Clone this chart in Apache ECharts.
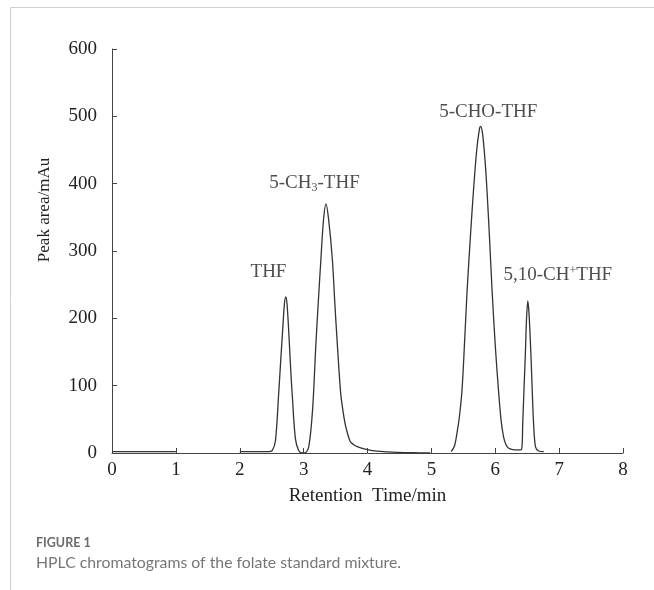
<!DOCTYPE html>
<html>
<head>
<meta charset="utf-8">
<script src="https://cdn.jsdelivr.net/npm/echarts@6/dist/echarts.min.js"></script>
<style>
html,body{margin:0;padding:0;background:#fff;}
#c{width:654px;height:590px;}
</style>
</head>
<body>
<div id="c"></div>
<script>
// Retention time (min) and signal (mAu); null breaks the trace
var times = [0, 1, 1.5,
  2.0, 2.3, 2.45, 2.51, 2.56, 2.61, 2.64, 2.67, 2.70, 2.72, 2.74, 2.77, 2.80, 2.82, 2.87, 2.92, 2.97, 3.02,
  3.08, 3.14, 3.19, 3.23, 3.27, 3.31, 3.35, 3.39, 3.45, 3.49, 3.53, 3.58, 3.62, 3.66, 3.73, 3.79, 3.84, 3.95, 4.05, 4.25, 4.46, 4.7, 4.98,
  5.1,
  5.31, 5.36, 5.40, 5.44, 5.48, 5.52, 5.56, 5.61, 5.66, 5.71, 5.75, 5.77, 5.80, 5.84, 5.87, 5.91, 5.95, 6.00, 6.05, 6.09, 6.13, 6.17, 6.21, 6.28, 6.34,
  6.41, 6.43, 6.45, 6.47, 6.49, 6.51, 6.53, 6.56, 6.58, 6.60, 6.63, 6.68, 6.76];
var signal = [2, 2, null,
  2, 2, 2, 4, 19, 89, 135, 180, 222, 232, 222, 175, 120, 89, 22, 4, 0, 0,
  9, 64, 158, 225, 287, 345, 370, 348, 287, 220, 158, 89, 60, 39, 17, 12, 9.4, 6, 4, 2, 1, 0.5, 0,
  null,
  2, 10, 29, 55, 94, 165, 242, 320, 391, 450, 480, 485, 475, 435, 391, 320, 242, 160, 94, 50, 24, 12, 7, 5, 4.5,
  5, 44, 95, 143, 200, 226, 205, 143, 90, 44, 9, 3, 2];

var peakNames = ['THF', '{n|5-CH}{sub|3}{n|-THF}', '5-CHO-THF', '{n|5,10-CH}{sup|+}{n|THF}'];
var labelTimes = [2.45, 3.17, 5.89, 6.98];
var labelValues = [269, 401, 507, 264];

var xTicks = [0, 1, 2, 3, 4, 5, 6, 7, 8];
var yTicks = [0, 100, 200, 300, 400, 500, 600];

var trace = times.map(function (t, i) { return [t, signal[i]]; });
var labels = labelTimes.map(function (t, i) { return { value: [t, labelValues[i]], name: peakNames[i] }; });

var serif = '"Liberation Serif", "DejaVu Serif", serif';
var axisColor = '#444';

var chart = echarts.init(document.getElementById('c'));
chart.setOption({
  backgroundColor: '#fff',
  animation: false,
  grid: { left: 112, right: 31, top: 49, bottom: 137 },
  xAxis: {
    type: 'value', min: xTicks[0], max: xTicks[xTicks.length - 1], interval: 1,
    name: 'Retention  Time/min', nameLocation: 'middle', nameGap: 34,
    nameTextStyle: { fontFamily: serif, fontSize: 19, color: '#222' },
    axisLine: { lineStyle: { color: axisColor, width: 1 } },
    axisTick: { inside: true, length: 5, lineStyle: { color: axisColor } },
    axisLabel: { fontFamily: serif, fontSize: 19, color: '#222', margin: 8 },
    splitLine: { show: false }
  },
  yAxis: {
    type: 'value', min: yTicks[0], max: yTicks[yTicks.length - 1], interval: 100,
    axisLine: { show: true, lineStyle: { color: axisColor, width: 1 } },
    axisTick: { show: true, inside: true, length: 5, lineStyle: { color: axisColor } },
    axisLabel: { fontFamily: serif, fontSize: 19, color: '#222', margin: 15 },
    splitLine: { show: false }
  },
  graphic: [
    { type: 'line', shape: { x1: 10.5, y1: 7.5, x2: 654, y2: 7.5 }, style: { stroke: '#d0d0d0', lineWidth: 1 } },
    { type: 'line', shape: { x1: 10.5, y1: 7.5, x2: 10.5, y2: 590 }, style: { stroke: '#d0d0d0', lineWidth: 1 } },
    { type: 'text', x: 45, y: 210, rotation: Math.PI / 2, style: { text: 'Peak area/mAu', fontFamily: serif, fontSize: 17, fill: '#222', textAlign: 'center', textVerticalAlign: 'middle' } },
    { type: 'text', x: 36, y: 543, style: { text: 'FIGURE 1', fontFamily: 'Lato, sans-serif', fontWeight: 'bold', fontSize: 12.5, fill: '#6b6b6b', textVerticalAlign: 'middle' } },
    { type: 'text', x: 36, y: 563, style: { text: 'HPLC chromatograms of the folate standard mixture.', fontFamily: 'Lato, sans-serif', fontSize: 15.8, fill: '#777', textVerticalAlign: 'middle' } }
  ],
  series: [
    {
      type: 'line', data: trace, showSymbol: false, connectNulls: false, smooth: 0.3,
      lineStyle: { color: '#333', width: 1.3 }
    },
    {
      type: 'scatter', data: labels, symbolSize: 0, silent: true,
      label: {
        show: true, position: 'inside', formatter: function (p) { return p.data.name; },
        fontFamily: serif, fontSize: 19, color: '#222',
        rich: {
          n: { fontFamily: serif, fontSize: 19, color: '#222' },
          sub: { fontFamily: serif, fontSize: 12, color: '#222', verticalAlign: 'bottom', padding: [9, 0, 0, 0] },
          sup: { fontFamily: serif, fontSize: 12, color: '#222', verticalAlign: 'top', padding: [0, 0, 9, 0] }
        }
      }
    }
  ]
});
</script>
</body>
</html>
